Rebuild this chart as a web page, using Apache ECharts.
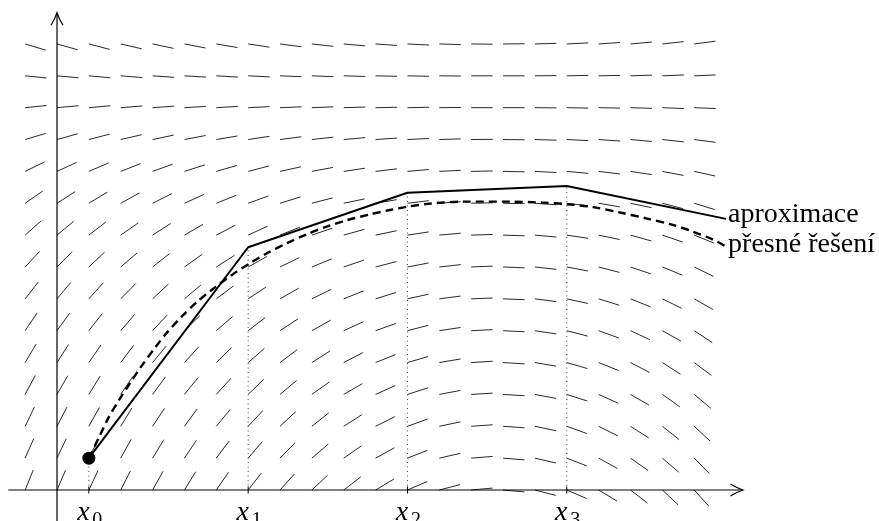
<!DOCTYPE html>
<html>
<head>
<meta charset="utf-8">
<script src="https://cdn.jsdelivr.net/npm/echarts/dist/echarts.min.js"></script>
<style>
  html, body { margin: 0; padding: 0; background: #fff; }
  #chart { width: 879px; height: 521px; }
</style>
</head>
<body>
<div id="chart"></div>
<script>
// ---------------- data ----------------
// direction field grid
const fieldX = [-1,0,1,2,3,4,5,6,7,8,9,10,11,12,13,14,15,16,17,18,19,20];
const fieldY = [0,1,2,3,4,5,6,7,8,9,10,11,12,13,14];
// slope read at every grid point, one row per fieldY value
const fieldSlopes = [
  [2.47,2.30,2.13,1.96,1.79,1.62,1.45,1.28,1.11,0.94,0.77,0.60,0.43,0.26,0.09,-0.09,-0.26,-0.43,-0.60,-0.77,-0.94,-1.11],
  [2.27,2.11,1.96,1.80,1.64,1.49,1.33,1.17,1.02,0.86,0.70,0.55,0.39,0.23,0.08,-0.08,-0.23,-0.39,-0.55,-0.70,-0.86,-1.02],
  [2.07,1.93,1.79,1.64,1.50,1.36,1.21,1.07,0.93,0.79,0.64,0.50,0.36,0.21,0.07,-0.07,-0.21,-0.36,-0.50,-0.64,-0.79,-0.93],
  [1.87,1.74,1.62,1.49,1.36,1.23,1.10,0.97,0.84,0.71,0.58,0.45,0.32,0.19,0.06,-0.06,-0.19,-0.32,-0.45,-0.58,-0.71,-0.84],
  [1.68,1.56,1.45,1.33,1.21,1.10,0.98,0.87,0.75,0.64,0.52,0.40,0.29,0.17,0.06,-0.06,-0.17,-0.29,-0.40,-0.52,-0.64,-0.75],
  [1.48,1.38,1.28,1.17,1.07,0.97,0.87,0.77,0.66,0.56,0.46,0.36,0.26,0.15,0.05,-0.05,-0.15,-0.26,-0.36,-0.46,-0.56,-0.66],
  [1.28,1.19,1.11,1.02,0.93,0.84,0.75,0.66,0.57,0.49,0.40,0.31,0.22,0.13,0.04,-0.04,-0.13,-0.22,-0.31,-0.40,-0.49,-0.57],
  [1.08,1.01,0.94,0.86,0.79,0.71,0.64,0.56,0.49,0.41,0.34,0.26,0.19,0.11,0.04,-0.04,-0.11,-0.19,-0.26,-0.34,-0.41,-0.49],
  [0.89,0.83,0.77,0.70,0.64,0.58,0.52,0.46,0.40,0.34,0.28,0.21,0.15,0.09,0.03,-0.03,-0.09,-0.15,-0.21,-0.28,-0.34,-0.40],
  [0.69,0.64,0.60,0.55,0.50,0.45,0.40,0.36,0.31,0.26,0.21,0.17,0.12,0.07,0.02,-0.02,-0.07,-0.12,-0.17,-0.21,-0.26,-0.31],
  [0.49,0.46,0.43,0.39,0.36,0.32,0.29,0.26,0.22,0.19,0.15,0.12,0.09,0.05,0.02,-0.02,-0.05,-0.09,-0.12,-0.15,-0.19,-0.22],
  [0.30,0.28,0.26,0.23,0.21,0.19,0.17,0.15,0.13,0.11,0.09,0.07,0.05,0.03,0.01,-0.01,-0.03,-0.05,-0.07,-0.09,-0.11,-0.13],
  [0.10,0.09,0.09,0.08,0.07,0.06,0.06,0.05,0.04,0.04,0.03,0.02,0.02,0.01,0.00,0.00,-0.01,-0.02,-0.02,-0.03,-0.04,-0.04],
  [-0.10,-0.09,-0.09,-0.08,-0.07,-0.06,-0.06,-0.05,-0.04,-0.04,-0.03,-0.02,-0.02,-0.01,0.00,0.00,0.01,0.02,0.02,0.03,0.04,0.04],
  [-0.30,-0.28,-0.26,-0.23,-0.21,-0.19,-0.17,-0.15,-0.13,-0.11,-0.09,-0.07,-0.05,-0.03,-0.01,0.01,0.03,0.05,0.07,0.09,0.11,0.13]
];

// Euler approximation (solid)
const eulerX = [1, 6, 11, 16, 21];
const eulerY = [1.0, 7.62, 9.33, 9.54, 8.51];

// exact solution (dashed)
const exactX = [1, 1.35, 1.6, 1.95, 2.29, 2.61, 3.08, 3.45, 3.92, 4.39, 4.96, 5.49, 6.06, 6.59, 7.22, 7.85, 8.47, 9.10, 9.82, 10.45, 10.99, 11.71, 12.74, 14.22, 15.25, 16.0, 16.82, 17.67, 18.52, 19.33, 19.96, 20.59, 21.0];
const exactY = [1, 1.72, 2.24, 2.83, 3.35, 3.83, 4.47, 4.94, 5.45, 5.90, 6.36, 6.75, 7.12, 7.43, 7.75, 8.03, 8.27, 8.47, 8.65, 8.79, 8.89, 8.99, 9.05, 9.05, 9.02, 8.97, 8.88, 8.71, 8.52, 8.32, 8.11, 7.86, 7.64];

// tick labels at the nodes x0..x3
const tickX = [1, 6, 11, 16];
const tickMain = ['x', 'x', 'x', 'x'];
const tickSub = ['0', '1', '2', '3'];

// series names / labels
const eulerName = 'aproximace';
const exactName = 'přesné řešení';

// drawn axis extents (data units)
const xAxisExtent = [-1.53, 21.53];
const yAxisExtent = [-1.0, 14.98];

// ---------------- chart ----------------
const SEG_LEN = 0.675;
const fieldData = [];
fieldY.forEach((y, j) => fieldX.forEach((x, i) => fieldData.push([x, y, fieldSlopes[j][i]])));

const eulerData = eulerX.map((x, i) => [x, eulerY[i]]);
const exactData = exactX.map((x, i) => [x, exactY[i]]);
const nodeData = tickX.map((x, i) => [x, eulerY[i]]);
const tickData = tickX.map((x, i) => [x, 0, i]);

const serif = '"Liberation Serif", "Times New Roman", serif';

function arrowHead(tip, dir) {
  const L = 12.5, W = 6;
  let a1, a2, c1, c2;
  if (dir === 'right') {
    a1 = [tip[0] - L, tip[1] - W]; c1 = [tip[0] - 6, tip[1] - 2];
    a2 = [tip[0] - L, tip[1] + W]; c2 = [tip[0] - 6, tip[1] + 2];
  } else {
    a1 = [tip[0] - W, tip[1] + L]; c1 = [tip[0] - 2, tip[1] + 6];
    a2 = [tip[0] + W, tip[1] + L]; c2 = [tip[0] + 2, tip[1] + 6];
  }
  return {
    type: 'path',
    shape: { pathData: `M${a1[0]} ${a1[1]} Q${c1[0]} ${c1[1]} ${tip[0]} ${tip[1]} Q${c2[0]} ${c2[1]} ${a2[0]} ${a2[1]}` },
    style: { stroke: '#000', lineWidth: 1.2, fill: null }
  };
}

const chart = echarts.init(document.getElementById('chart'), null, { renderer: 'canvas' });
chart.setOption({
  animation: false,
  backgroundColor: '#fff',
  grid: { left: 0, right: 0, top: 0, bottom: 0 },
  xAxis: { type: 'value', min: -1.789, max: 25.80, show: false },
  yAxis: { type: 'value', min: -0.973, max: 15.380, show: false },
  series: [
    {
      type: 'custom', name: 'field', silent: true, z: 1,
      data: fieldData,
      encode: { x: 0, y: 1 },
      renderItem: function (params, api) {
        const x = api.value(0), y = api.value(1), s = api.value(2);
        const n = Math.sqrt(1 + s * s);
        const p0 = api.coord([x, y]);
        const p1 = api.coord([x + SEG_LEN / n, y + SEG_LEN * s / n]);
        return { type: 'line', shape: { x1: p0[0], y1: p0[1], x2: p1[0], y2: p1[1] },
                 style: { stroke: '#111', lineWidth: 0.9 } };
      }
    },
    {
      type: 'custom', name: 'axes', silent: true, z: 2,
      data: [[0, 0]],
      renderItem: function (params, api) {
        const a = api.coord([xAxisExtent[0], 0]), b = api.coord([xAxisExtent[1], 0]);
        const c = api.coord([0, yAxisExtent[0]]), d = api.coord([0, yAxisExtent[1]]);
        return { type: 'group', children: [
          { type: 'line', shape: { x1: a[0], y1: a[1], x2: b[0], y2: b[1] }, style: { stroke: '#000', lineWidth: 1.2 } },
          { type: 'line', shape: { x1: c[0], y1: c[1], x2: d[0], y2: d[1] }, style: { stroke: '#000', lineWidth: 1.2 } },
          arrowHead(b, 'right'),
          arrowHead(d, 'up')
        ] };
      }
    },
    {
      type: 'custom', name: 'guides', silent: true, z: 3,
      data: nodeData,
      encode: { x: 0, y: 1 },
      renderItem: function (params, api) {
        const top = api.coord([api.value(0), api.value(1)]);
        const bot = api.coord([api.value(0), 0]);
        return { type: 'line', shape: { x1: bot[0], y1: bot[1], x2: top[0], y2: top[1] },
                 style: { stroke: '#444', lineWidth: 1, lineDash: [1, 3.5] } };
      }
    },
    {
      type: 'custom', name: 'ticks', silent: true, z: 4,
      data: tickData,
      encode: { x: 0, y: 1 },
      renderItem: function (params, api) {
        const p = api.coord([api.value(0), 0]);
        const i = api.value(2);
        return { type: 'group', children: [
          { type: 'line', shape: { x1: p[0], y1: p[1] - 3.5, x2: p[0], y2: p[1] + 3.5 }, style: { stroke: '#000', lineWidth: 1 } },
          { type: 'text', style: { text: tickMain[i], x: p[0] - 5.5, y: p[1] + 23, font: 'italic 28px ' + serif,
              fill: '#000', align: 'center', verticalAlign: 'middle' } },
          { type: 'text', style: { text: tickSub[i], x: p[0] + 8.5, y: p[1] + 31, font: '20px ' + serif,
              fill: '#000', align: 'center', verticalAlign: 'middle' } }
        ] };
      }
    },
    {
      type: 'line', name: exactName, z: 5,
      data: exactData, smooth: 0.3, symbol: 'none',
      lineStyle: { color: '#000', width: 2.4, type: [8, 5] },
      endLabel: { show: true, formatter: exactName, color: '#000', fontSize: 28, fontFamily: serif,
                  distance: 2, offset: [0, -1.5] }
    },
    {
      type: 'line', name: eulerName, z: 6,
      data: eulerData, symbol: 'none',
      lineStyle: { color: '#000', width: 2 },
      endLabel: { show: true, formatter: eulerName, color: '#000', fontSize: 28, fontFamily: serif,
                  distance: 2, offset: [0, -4.5] }
    },
    {
      type: 'scatter', name: 'start', z: 7,
      data: [eulerData[0]], symbol: 'circle', symbolSize: 13,
      itemStyle: { color: '#000', opacity: 1 }
    }
  ]
});
</script>
</body>
</html>
